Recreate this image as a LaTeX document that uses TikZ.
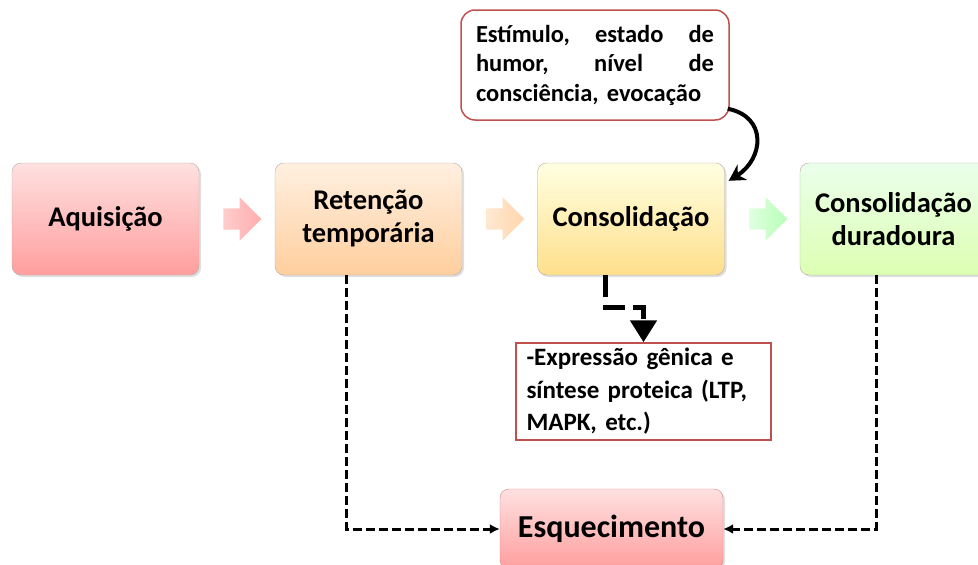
\documentclass[tikz,border=0pt]{standalone}
\usepackage{fontspec}
\setmainfont{Carlito}
\usetikzlibrary{shapes.arrows,shadows,arrows.meta,positioning}

\definecolor{accred}{HTML}{C0504D}
\definecolor{boxline}{HTML}{B8A8A8}

\tikzset{
  stage/.style 2 args={draw=boxline, rounded corners=9pt,
    minimum width=187pt, minimum height=112pt,
    top color=#1, bottom color=#2, align=center,
    font=\bfseries\fontsize{28.5}{33}\selectfont,
    drop shadow={opacity=0.25, shadow xshift=2pt, shadow yshift=-2pt}},
  blockarrow/.style 2 args={single arrow, single arrow head extend=11pt,
    minimum height=38pt, minimum width=43pt, inner sep=10.5pt,
    left color=#1, right color=#2},
  note/.style={draw=accred, line width=1.5pt, fill=white, align=left,
    font=\bfseries\fontsize{24.5}{29.5}\selectfont},
  dashback/.style={line width=3pt, dash pattern=on 9pt off 4pt,
    -{Latex[length=10pt,width=10pt]}},
  elbow/.style={line width=5pt, dash pattern=on 22pt off 8pt,
    -{Triangle[length=22pt,width=26pt]}}
}

\begin{document}
\begin{tikzpicture}[x=1pt,y=-1pt]
\useasboundingbox (0,0) rectangle (978,565);

% stages
\node[stage={red!12}{red!38}] (aqu) at (105.5,219) {Aquisição};
\node[stage={orange!12}{orange!38}] (ret) at (368.5,219) {Retenção\\temporária};
\node[stage={yellow!12}{yellow!45!orange!45}] (cons) at (631,219) {Consolidação};
\node[stage={green!8}{green!45!yellow!30}] (dur) at (893.5,219) {Consolidação\\duradoura};
\node[stage={red!12}{red!38}, draw=accred!70, font=\bfseries\fontsize{32}{36}\selectfont,
  minimum width=223pt, minimum height=80pt] (esq) at (611.5,529) {Esquecimento};

% block arrows
\node[blockarrow={red!20}{red!32}] (a1) at (237,219) {};
\node[blockarrow={orange!18}{orange!32}] (a2) at (500,219) {};
\node[blockarrow={green!12}{green!28}] (a3) at (763,219) {};

% notes
\node[note, rounded corners=14pt, minimum width=268pt, minimum height=110pt,
  text width=238pt] (stim) at (595,65)
  {Estímulo,\hfill estado\hfill de\\humor,\hfill nível\hfill de\\consciência, evocação};
\node[note, font=\bfseries\fontsize{25}{32.5}\selectfont, minimum width=255pt,
  minimum height=97pt, text width=234pt] (expr) at (643.5,391.5)
  {-Expressão gênica e\\síntese proteica (LTP,\\MAPK, etc.)};

% connectors
\draw[line width=4pt, -{Stealth[length=16pt,width=18pt]}]
  ([xshift=-2pt,yshift=12pt]stim.south east) .. controls +(40,8) and +(35,-22) ..
  ([xshift=4pt,yshift=-18pt]cons.north east);
\draw[elbow] ([xshift=-26pt]cons.south) |- ([yshift=35pt]expr.north) -- (expr.north);
\draw[dashback] ([xshift=-22pt]ret.south) |- (esq.west);
\draw[dashback] ([xshift=-17pt]dur.south) |- (esq.east);
\end{tikzpicture}
\end{document}
